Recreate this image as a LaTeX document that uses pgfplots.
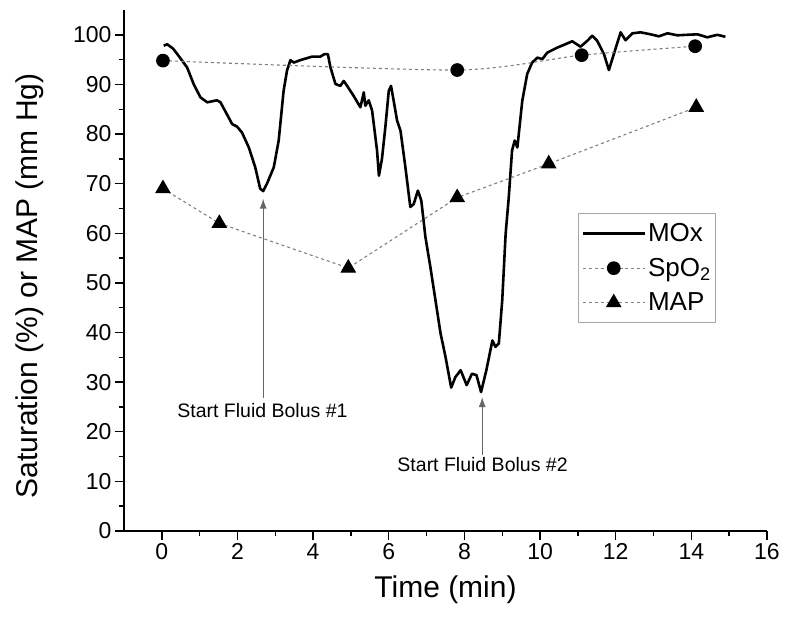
\documentclass[border=0pt]{standalone}
\usepackage{pgfplots}
\pgfplotsset{compat=1.18}
\usepackage{fontspec}
\setmainfont{Liberation Sans}
\usetikzlibrary{arrows.meta}
\begin{document}
\begin{tikzpicture}[x=1pt,y=1pt]
\path[use as bounding box] (-124,-91) rectangle (664,531);
\begin{axis}[
 at={(0,0)}, anchor=south west,
 scale only axis, width=643pt, height=521pt,
 xmin=-1, xmax=16, ymin=0, ymax=105,
 axis lines=left, axis line style={-, line width=1.6pt},
 xtick={0,2,...,16}, ytick={0,10,...,100},
 minor x tick num=1, minor y tick num=1,
 tick align=outside,
 major tick length=9pt, minor tick length=5pt,
 every tick/.style={line width=1.4pt, black},
 tick label style={font=\fontsize{23}{27}\selectfont},
 /pgf/number format/assume math mode=true,
 xlabel={Time (min)}, ylabel={Saturation (\%) or MAP (mm Hg)},
 label style={font=\fontsize{30}{36}\selectfont},
 xlabel style={at={([yshift=-59pt]axis description cs:0.5,0)}, anchor=center},
 ylabel style={at={([xshift=-94pt]axis description cs:0,0.47)}, anchor=center},
 legend style={at={(rel axis cs:0.706,0.610)}, anchor=north west, draw=gray!70, line width=1pt,
   font=\fontsize{26}{30}\selectfont, inner xsep=3pt, inner ysep=8pt, row sep=11pt, cells={anchor=west}},
 legend image code/.code={\draw[mark repeat=2,mark phase=2,#1] plot coordinates {(0pt,0pt) (31pt,0pt) (62pt,0pt)};},
]
\addplot[black, line width=2.6pt, line join=round] table {
x y
0.05 97.8
0.14 98.1
0.30 97.2
0.44 95.8
0.67 93.4
0.84 90.1
1.02 87.4
1.20 86.4
1.46 86.8
1.55 86.4
1.72 84.0
1.86 82.0
1.99 81.5
2.12 80.3
2.30 77.3
2.47 73.3
2.60 69.0
2.68 68.5
2.78 70.0
2.96 73.3
3.09 78.7
3.22 88.7
3.31 92.8
3.40 94.9
3.49 94.4
3.66 94.9
3.84 95.3
3.97 95.6
4.19 95.6
4.30 96.1
4.39 96.1
4.46 93.4
4.59 90.1
4.72 89.7
4.81 90.7
4.90 89.7
5.07 87.7
5.25 85.4
5.34 88.4
5.38 85.7
5.47 86.8
5.56 84.7
5.69 76.7
5.74 71.6
5.82 75.0
5.91 81.4
6.00 88.7
6.06 89.7
6.13 86.7
6.22 82.7
6.31 80.7
6.44 73.3
6.57 65.3
6.66 65.9
6.77 68.6
6.86 66.6
6.97 59.2
7.10 53.2
7.37 39.8
7.50 35.1
7.65 28.9
7.76 31.0
7.90 32.4
8.06 29.4
8.20 31.7
8.32 31.4
8.44 28.0
8.58 32.4
8.74 38.4
8.82 37.1
8.91 37.8
9.00 46.5
9.09 59.9
9.17 67.0
9.26 76.7
9.33 78.7
9.40 77.3
9.53 86.7
9.66 92.1
9.79 94.4
9.93 95.4
10.06 95.1
10.19 96.4
10.45 97.4
10.67 98.1
10.85 98.7
11.07 97.6
11.25 98.8
11.38 99.8
11.51 98.8
11.69 96.1
11.82 92.9
11.95 96.1
12.13 100.5
12.26 98.9
12.44 100.3
12.66 100.5
12.92 100.1
13.14 99.7
13.37 100.3
13.63 99.9
13.89 100.0
14.16 100.1
14.42 99.5
14.69 100.0
14.90 99.6
};
\addlegendentry{MOx}
\addplot[gray, line width=1.1pt, dash pattern=on 3pt off 3pt, smooth, tension=0.4,
  mark=*, mark size=6.3pt, mark options={solid, fill=black, draw=black}] coordinates {
(0.03,94.8) (7.81,92.9) (11.1,95.9) (14.1,97.7)
};
\addlegendentry{SpO\textsubscript{2}}
\addplot[gray, line width=1.1pt, dash pattern=on 3pt off 3pt,
  mark=triangle*, mark size=8pt, mark options={solid, fill=black, draw=black}] coordinates {
(0.03,69.0) (1.52,62.0) (4.93,53.0) (7.81,67.2) (10.23,74.0) (14.13,85.4)
};
\addlegendentry{MAP}
\draw[gray!80!black, line width=1.2pt, -{Latex[length=10pt,width=7pt]}] (axis cs:2.68,26.8) -- (axis cs:2.68,67.0);
\node[font=\fontsize{19.5}{23}\selectfont] at (axis cs:2.66,24.3) {Start Fluid Bolus \#1};
\draw[gray!80!black, line width=1.2pt, -{Latex[length=10pt,width=7pt]}] (axis cs:8.47,15.3) -- (axis cs:8.47,27.0);
\node[font=\fontsize{19.5}{23}\selectfont] at (axis cs:8.48,13.3) {Start Fluid Bolus \#2};
\end{axis}
\end{tikzpicture}
\end{document}
